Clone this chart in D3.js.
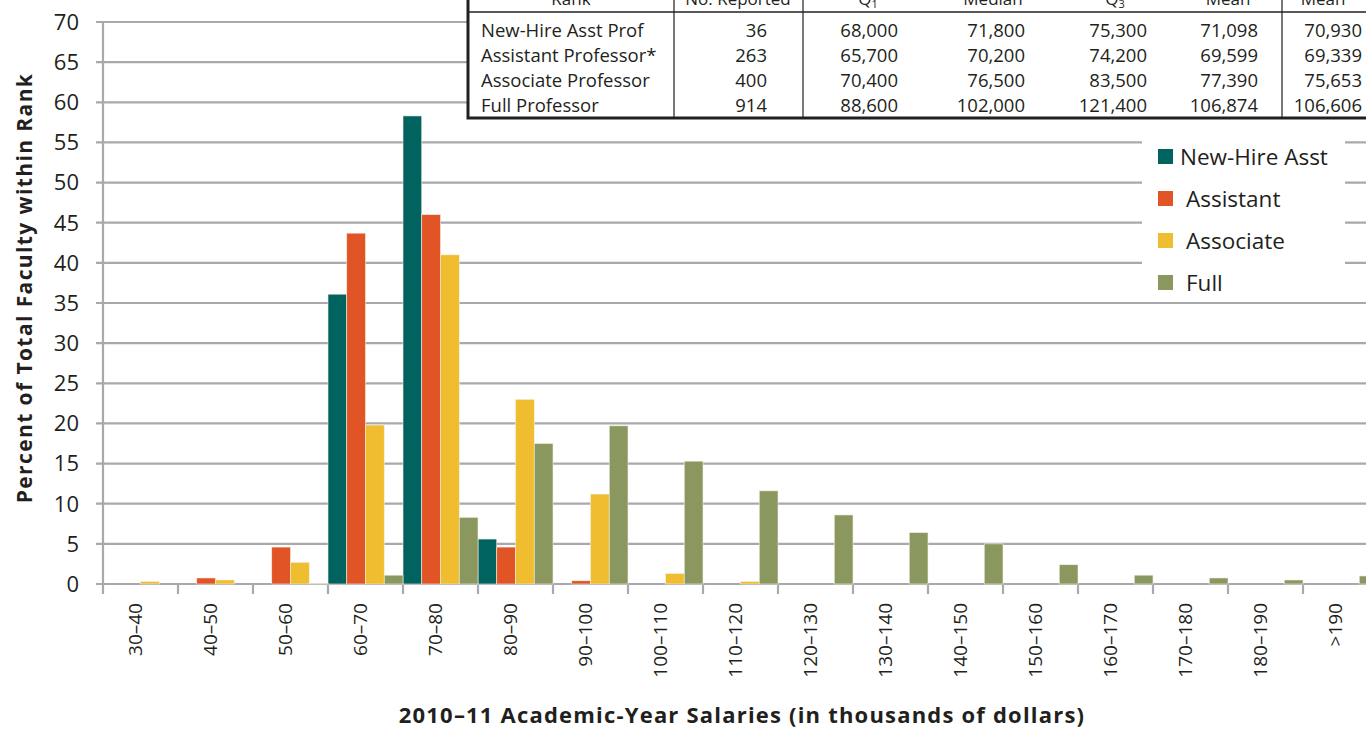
<!DOCTYPE html>
<html>
<head>
<meta charset="utf-8">
<script src="https://cdn.jsdelivr.net/npm/d3@7"></script>
<style>
  body { margin: 0; background: #fff; overflow: hidden; }
  text { font-family: "Open Sans", "Noto Sans", sans-serif; fill: #231f20; }
</style>
</head>
<body>
<script>
// salary bins (thousands of dollars)
var bins = ["30–40", "40–50", "50–60", "60–70", "70–80", "80–90", "90–100", "100–110",
            "110–120", "120–130", "130–140", "140–150", "150–160", "160–170", "170–180", "180–190", ">190"];

var series = ["New-Hire Asst", "Assistant", "Associate", "Full"];
var colors = ["#00635f", "#e05426", "#f0bd30", "#8a9860"];

// percent of faculty within rank, one value per bin
var newHire   = [0, 0, 0, 36.1, 58.3, 5.6, 0, 0, 0, 0, 0, 0, 0, 0, 0, 0, 0];
var assistant = [0, 0.75, 4.6, 43.7, 46.0, 4.6, 0.4, 0, 0, 0, 0, 0, 0, 0, 0, 0, 0];
var associate = [0.3, 0.5, 2.7, 19.8, 41.0, 23.0, 11.2, 1.3, 0.3, 0, 0, 0, 0, 0, 0, 0, 0];
var full      = [0, 0, 0.1, 1.1, 8.3, 17.5, 19.7, 15.3, 11.6, 8.6, 6.4, 5.0, 2.4, 1.1, 0.75, 0.5, 1.0];

var yTicks = [0, 5, 10, 15, 20, 25, 30, 35, 40, 45, 50, 55, 60, 65, 70];

// summary table
var tableHeader = ["Rank", "No. Reported", "Q1", "Median", "Q3", "Mean", "Mean"];
var tableRows = [
  ["New-Hire Asst Prof", "36", "68,000", "71,800", "75,300", "71,098", "70,930"],
  ["Assistant Professor*", "263", "65,700", "70,200", "74,200", "69,599", "69,339"],
  ["Associate Professor", "400", "70,400", "76,500", "83,500", "77,390", "75,653"],
  ["Full Professor", "914", "88,600", "102,000", "121,400", "106,874", "106,606"]
];

var values = [newHire, assistant, associate, full];

var W = 1366, H = 730;
var m = {left: 103, top: 22, bottom: 584};
var catW = 75;

var svg = d3.select("body").append("svg")
  .attr("width", W).attr("height", H);

var x = d3.scaleBand().domain(bins)
  .range([m.left, m.left + catW * bins.length]).paddingInner(0).paddingOuter(0);
var xs = d3.scaleBand().domain(series).range([0, x.bandwidth()]);
var y = d3.scaleLinear().domain([0, 70]).range([m.bottom, m.top]);

var gridColor = "#a7a9ac";

// gridlines
svg.append("g").selectAll("line").data(yTicks).enter().append("line")
  .attr("x1", m.left - 7).attr("x2", W)
  .attr("y1", function(d){ return y(d); }).attr("y2", function(d){ return y(d); })
  .attr("stroke", gridColor).attr("stroke-width", 2.2);

// y axis line
svg.append("line")
  .attr("x1", m.left).attr("x2", m.left)
  .attr("y1", y(70) - 1).attr("y2", m.bottom + 10)
  .attr("stroke", gridColor).attr("stroke-width", 2.2);

// x ticks at category boundaries
var bounds = bins.map(function(b){ return x(b); });
svg.append("g").selectAll("line").data(bounds.slice(1)).enter().append("line")
  .attr("x1", function(d){ return d; }).attr("x2", function(d){ return d; })
  .attr("y1", m.bottom).attr("y2", m.bottom + 10)
  .attr("stroke", gridColor).attr("stroke-width", 2.2);

// bars
series.forEach(function(s, i){
  var pts = values[i].map(function(v, j){ return {bin: bins[j], v: v}; })
    .filter(function(d){ return d.v > 0; });
  svg.append("g").selectAll("rect").data(pts).enter().append("rect")
    .attr("x", function(d){ return x(d.bin) + xs(s); })
    .attr("y", function(d){ return y(d.v); })
    .attr("width", xs.bandwidth())
    .attr("height", function(d){ return y(0) - y(d.v); })
    .attr("fill", colors[i])
    .attr("stroke", "#f4efe0").attr("stroke-width", 0.6);
});

// y tick labels
svg.append("g").selectAll("text").data(yTicks).enter().append("text")
  .attr("x", 79).attr("y", function(d){ return y(d); })
  .attr("dy", "0.36em").attr("text-anchor", "end")
  .style("font-size", "22px")
  .text(function(d){ return d; });

// x tick labels
svg.append("g").selectAll("text").data(bins).enter().append("text")
  .attr("transform", function(d){ return "translate(" + (x(d) + x.bandwidth()/2 - 5) + ",603) rotate(-90)"; })
  .attr("dy", "0.36em").attr("text-anchor", "end")
  .style("font-size", "19px")
  .text(function(d){ return d; });

// axis titles
svg.append("text")
  .attr("transform", "translate(24,288) rotate(-90)")
  .attr("dy", "0.36em").attr("text-anchor", "middle")
  .style("font-size", "21px").style("font-weight", "bold").style("letter-spacing", "1.4px")
  .text("Percent of Total Faculty within Rank");

svg.append("text")
  .attr("x", 742).attr("y", 715).attr("dy", "0.36em").attr("text-anchor", "middle")
  .style("font-size", "22px").style("font-weight", "bold").style("letter-spacing", "1.2px")
  .text("2010–11 Academic-Year Salaries (in thousands of dollars)");

// legend box
svg.append("rect").attr("x", 1142).attr("y", 128).attr("width", 203).attr("height", 173)
  .attr("fill", "#fff");
var legY = [157, 199, 241, 283];
var legTx = [1180, 1186, 1186, 1186];
series.forEach(function(s, i){
  svg.append("rect").attr("x", 1158).attr("y", legY[i] - 8).attr("width", 15).attr("height", 15)
    .attr("fill", colors[i]);
  svg.append("text").attr("x", legTx[i]).attr("y", legY[i]).attr("dy", "0.36em")
    .style("font-size", "22.5px").text(s);
});

// summary table
var tb = svg.append("g");
tb.append("rect").attr("x", 468).attr("y", -10).attr("width", 920).attr("height", 128)
  .attr("fill", "#fff").attr("stroke", "#231f20").attr("stroke-width", 3);
tb.append("line").attr("x1", 468).attr("x2", W).attr("y1", 12).attr("y2", 12)
  .attr("stroke", "#231f20").attr("stroke-width", 1.5);
[674, 803, 1282].forEach(function(cx){
  tb.append("line").attr("x1", cx).attr("x2", cx).attr("y1", -10).attr("y2", 118)
    .attr("stroke", "#231f20").attr("stroke-width", 1.2);
});

var colRight = [null, 767, 898, 1025, 1147, 1258, 1362];
var headCenter = [571, 738, 868, 993, 1115, 1228, 1323];
tableHeader.forEach(function(h, c){
  var t = tb.append("text").attr("x", headCenter[c]).attr("y", 5)
    .attr("text-anchor", "middle").style("font-size", "17px");
  if (h === "Q1" || h === "Q3") {
    t.text("Q");
    t.append("tspan").attr("dy", 3).style("font-size", "11px").text(h.charAt(1));
  } else {
    t.text(h);
  }
});

var rowY = [30, 55, 80, 105];
tableRows.forEach(function(r, i){
  r.forEach(function(v, c){
    tb.append("text")
      .attr("x", c === 0 ? 481 : colRight[c])
      .attr("y", rowY[i]).attr("dy", "0.36em")
      .attr("text-anchor", c === 0 ? "start" : "end")
      .style("font-size", "18.5px")
      .text(v);
  });
});
</script>
</body>
</html>
